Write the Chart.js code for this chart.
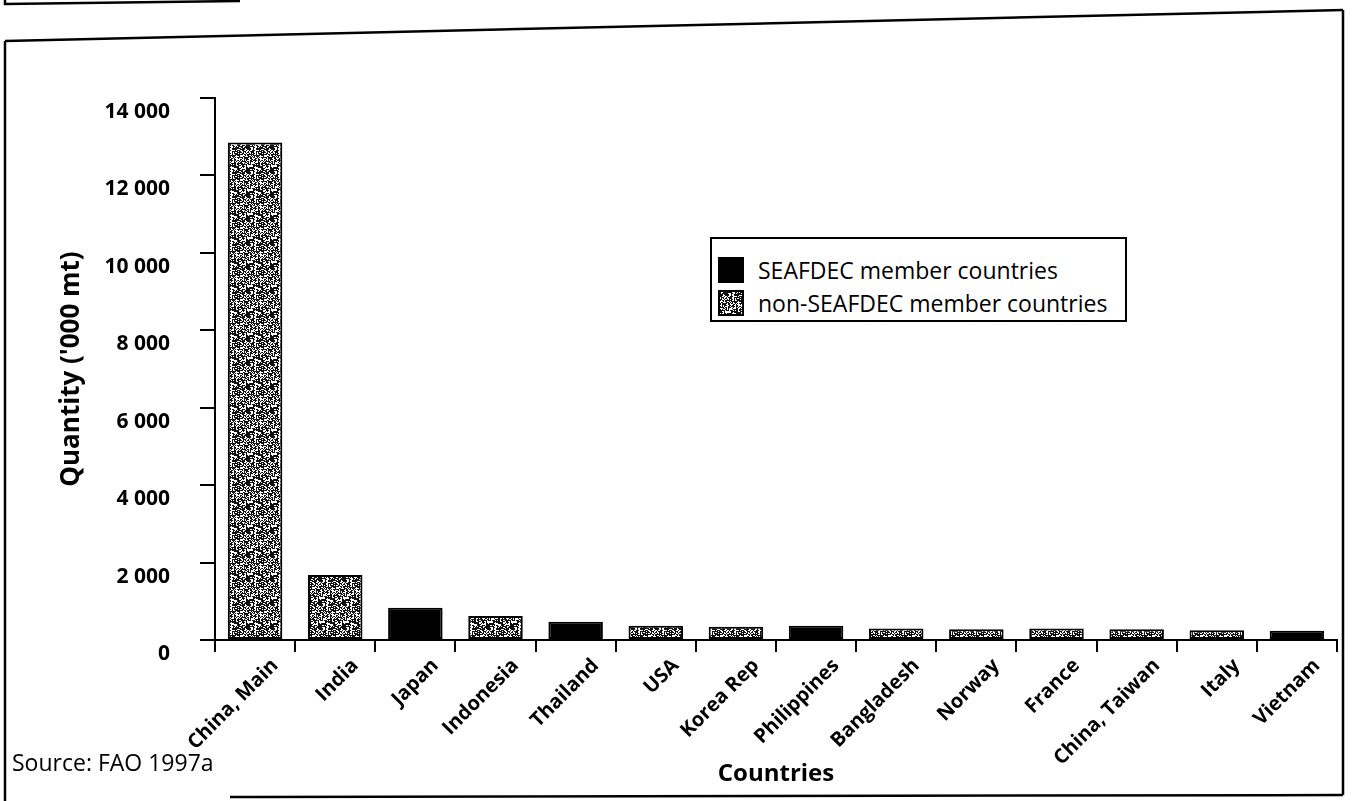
<!DOCTYPE html>
<html>
<head>
<meta charset="utf-8">
<script src="https://cdn.jsdelivr.net/npm/chart.js@4.4.1/dist/chart.umd.min.js"></script>
<style>
  html, body { margin: 0; padding: 0; background: #fff; }
  body { width: 1370px; height: 801px; position: relative; overflow: hidden; font-family: "Open Sans", sans-serif; }
  #chart { position: absolute; left: 0; top: 0; }
  #frame { position: absolute; left: 0; top: 0; }
  .legend {
    position: absolute; left: 710px; top: 237px; width: 413px; height: 81px;
    border: 2px solid #000; background: #fff;
  }
  .legend .item { position: absolute; left: 6px; height: 26px; display: flex; align-items: center; }
  .legend .swatch { width: 26px; height: 26px; margin-right: 14px; box-sizing: border-box; }
  .legend span { font-size: 23px; color: #000; line-height: 26px; }
  .source { position: absolute; left: 12px; top: 746px; font-size: 23px; color: #000; }
</style>
</head>
<body>
<canvas id="chart" width="1370" height="801"></canvas>
<svg id="frame" width="1370" height="801">
  <g stroke="#000" stroke-width="2.5" fill="none">
    <polyline points="5,0 5,4 240,1" />
    <line x1="5" y1="41" x2="1343" y2="10" />
    <line x1="5" y1="41" x2="5" y2="801" />
    <line x1="1343" y1="10" x2="1343" y2="795" />
    <line x1="230" y1="797" x2="1343" y2="795" />
  </g>
</svg>
<div class="legend">
  <div class="item" style="top:18px"><div class="swatch" style="background:#000"></div><span>SEAFDEC member countries</span></div>
  <div class="item" style="top:51px"><canvas class="swatch" id="swatch2" width="26" height="26"></canvas><span>non-SEAFDEC member countries</span></div>
</div>
<div class="source">Source: FAO 1997a</div>
<script>
const countries = ["China, Main", "India", "Japan", "Indonesia", "Thailand", "USA", "Korea Rep",
  "Philippines", "Bangladesh", "Norway", "France", "China, Taiwan", "Italy", "Vietnam"];
const quantities = [12850, 1680, 830, 620, 470, 370, 340, 370, 300, 280, 300, 280, 250, 240];
const seafdecMember = [false, false, true, false, true, false, false, true, false, false, false, false, false, true];
const yTicks = [0, 2000, 4000, 6000, 8000, 10000, 12000, 14000];

// speckled grey texture used for the non-member bars
function makeTexture() {
  const c = document.createElement("canvas");
  c.width = 24;
  c.height = 24;
  const g = c.getContext("2d");
  g.fillStyle = "#fff";
  g.fillRect(0, 0, 24, 24);
  g.fillStyle = "#111";
  for (let y = 0; y < 24; y++) {
    for (let x = 0; x < 24; x++) {
      const h = ((x * 374761393 + y * 668265263) ^ (x * y * 2246822519)) >>> 0;
      if ((h % 100) < 60) g.fillRect(x, y, 1, 1);
    }
  }
  return c;
}

const texture = makeTexture();
const ctx = document.getElementById("chart").getContext("2d");
const pattern = ctx.createPattern(texture, "repeat");

const sw = document.getElementById("swatch2").getContext("2d");
sw.fillStyle = sw.createPattern(texture, "repeat");
sw.fillRect(0, 0, 26, 26);
sw.strokeStyle = "#000";
sw.lineWidth = 2;
sw.strokeRect(1, 1, 24, 24);

const whiteBg = {
  id: "whiteBg",
  beforeDraw(chart) {
    const c = chart.ctx;
    c.save();
    c.fillStyle = "#fff";
    c.fillRect(0, 0, chart.width, chart.height);
    c.restore();
  }
};

new Chart(ctx, {
  type: "bar",
  data: {
    labels: countries,
    datasets: [
      {
        label: "Quantity",
        data: quantities,
        backgroundColor: seafdecMember.map(m => (m ? "#000" : pattern)),
        borderColor: "#000",
        borderWidth: 2,
        borderSkipped: false,
        barPercentage: 0.68,
        categoryPercentage: 1
      }
    ]
  },
  options: {
    responsive: false,
    animation: false,
    layout: { padding: { top: 98, right: 33, left: 56, bottom: 0 } },
    plugins: { legend: { display: false }, tooltip: { enabled: false } },
    scales: {
      x: {
        afterFit(scale) { scale.height = 161; },
        grid: { drawOnChartArea: false, drawTicks: true, tickLength: 12, color: "#000", lineWidth: 2 },
        border: { display: true, color: "#000", width: 2 },
        ticks: {
          color: "#000",
          font: { family: "Open Sans", size: 20, weight: "bold" },
          minRotation: 45,
          maxRotation: 45,
          autoSkip: false,
          padding: 2,
          labelOffset: 20
        },
        title: {
          display: true,
          text: "Countries",
          color: "#000",
          font: { family: "Open Sans", size: 24, weight: "bold" },
          padding: { top: 0, bottom: 12 }
        }
      },
      y: {
        min: 0,
        max: 14000,
        afterFit(scale) { scale.width = 159; },
        afterBuildTicks(scale) { scale.ticks = yTicks.map(v => ({ value: v })); },
        grid: { drawOnChartArea: false, drawTicks: true, tickLength: 15, color: "#000", lineWidth: 2 },
        border: { display: true, color: "#000", width: 2 },
        ticks: {
          color: "#000",
          font: { family: "Open Sans", size: 21, weight: "bold" },
          padding: 30,
          labelOffset: 14,
          callback: v => String(v).replace(/\B(?=(\d{3})+(?!\d))/g, " ")
        },
        title: {
          display: true,
          text: "Quantity ('000 mt)",
          color: "#000",
          font: { family: "Open Sans", size: 26, weight: "bold" },
          padding: 0
        }
      }
    }
  },
  plugins: [whiteBg]
});
</script>
</body>
</html>
